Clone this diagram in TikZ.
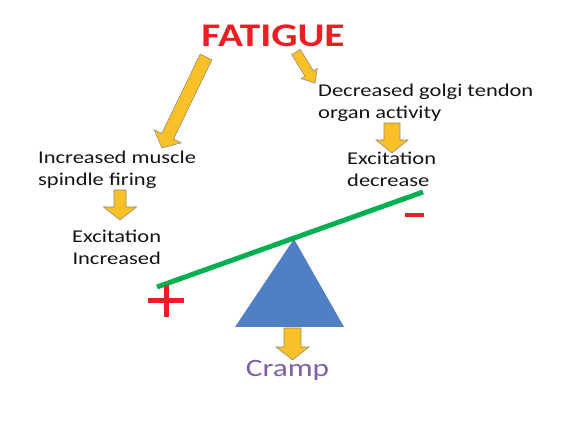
\documentclass[tikz,border=0pt]{standalone}
\usepackage{fontspec}
\setmainfont{Carlito}[FakeStretch=1.25]
\usetikzlibrary{calc}
\definecolor{fatred}{RGB}{236,30,36}
\definecolor{arrowyellow}{RGB}{250,192,40}
\definecolor{arrowedge}{RGB}{150,140,110}
\definecolor{beamgreen}{RGB}{0,176,80}
\definecolor{triblue}{RGB}{80,128,196}
\definecolor{crampurple}{RGB}{128,96,166}
\definecolor{txt}{RGB}{20,20,20}
\newcommand\blockarr[5]{% tail, tip, half shaft, half head, head length
  \coordinate (hb) at ($(#2)!#5!(#1)$);
  \filldraw[yarrow] ($(#1)!#3!90:(#2)$) -- ($(hb)!#3!90:(#2)$) -- ($(hb)!#4!90:(#2)$) -- (#2)
    -- ($(hb)!#4!-90:(#2)$) -- ($(hb)!#3!-90:(#2)$) -- ($(#1)!#3!-90:(#2)$) -- cycle;
}
\begin{document}
\begin{tikzpicture}[x=1pt,y=-1pt,
  yarrow/.style={fill=arrowyellow,draw=arrowedge,line width=0.6pt,line join=miter},
  body/.style={text=txt,font=\fontsize{18}{22}\selectfont,inner sep=0pt},
  sign/.style={draw=fatred,line width=5pt}]
\useasboundingbox[fill=white] (0,0) rectangle (568,427);
% title
\node[text=fatred,font=\fontsize{33}{40}\selectfont\bfseries,inner sep=0pt] (fat) at (273,36) {FATIGUE};
% texts
\node[body,align=left,anchor=north west] (ims) at (38,151) {Increased muscle\\spindle firing};
\node[body,align=center,anchor=north west] (exi) at (72,230) {Excitation\\Increased};
\node[body,align=left,anchor=north west] (dgt) at (318,84) {Decreased golgi tendon\\organ activity};
\node[body,align=left,anchor=north west] (exd) at (347,152) {Excitation\\decrease};
\node[text=crampurple,font=\fontsize{25}{28}\selectfont,inner sep=0pt,anchor=base] (cramp) at (287.5,377) {Cramp};
% block arrows
\coordinate (a1t) at (206,57); \coordinate (a1h) at (162,148);
\blockarr{a1t}{a1h}{6.5pt}{15pt}{13pt}
\coordinate (a2t) at (296,52); \coordinate (a2h) at (315,83);
\blockarr{a2t}{a2h}{5pt}{9.5pt}{11pt}
\coordinate (a3t) at (120,190); \coordinate (a3h) at (120,220);
\blockarr{a3t}{a3h}{6pt}{16.5pt}{13pt}
\coordinate (a4t) at (392,123); \coordinate (a4h) at (392,153);
\blockarr{a4t}{a4h}{8pt}{16pt}{13pt}
\coordinate (a5t) at (292.5,328); \coordinate (a5h) at (292.5,360);
\blockarr{a5t}{a5h}{8.5pt}{16.5pt}{13pt}
% seesaw
\coordinate (tA) at (294,239); \coordinate (tL) at (235,327); \coordinate (tR) at (344,327);
\fill[triblue] (tA) -- (tL) -- (tR) -- cycle;
\coordinate (bL) at (157,287); \coordinate (bR) at (423,192);
\draw[beamgreen,line width=5pt] (bL) -- (bR);
% signs
\coordinate (p1) at (148,301); \coordinate (p2) at (184,301);
\coordinate (p3) at (166,285); \coordinate (p4) at (166,317);
\draw[sign] (p1) -- (p2); \draw[sign] (p3) -- (p4);
\coordinate (m1) at (405,215); \coordinate (m2) at (424,215);
\draw[sign,line width=4pt] (m1) -- (m2);
\end{tikzpicture}
\end{document}
